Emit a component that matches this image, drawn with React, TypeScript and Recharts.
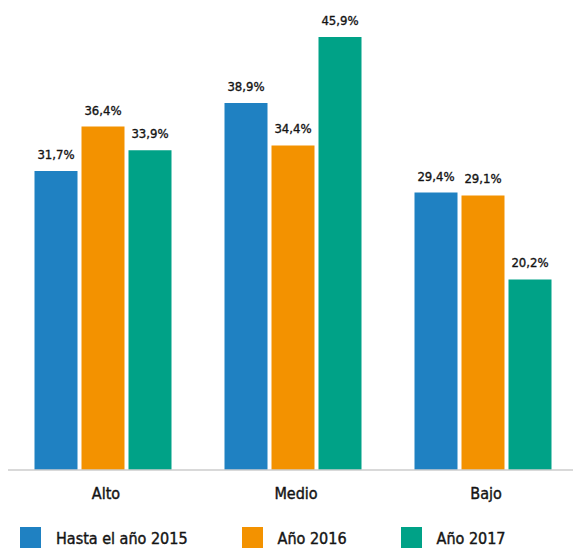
import React from "react";
import { BarChart, Bar, XAxis, YAxis, LabelList, Legend } from "recharts";

const categories = ["Alto", "Medio", "Bajo"];
const hasta2015 = [31.7, 38.9, 29.4];
const anio2016 = [36.4, 34.4, 29.1];
const anio2017 = [33.9, 45.9, 20.2];
const seriesNames = ["Hasta el año 2015", "Año 2016", "Año 2017"];
const seriesKeys = ["s2015", "s2016", "s2017"];
const seriesColors = ["#1F81C2", "#F39200", "#00A287"];

const data = categories.map((c, i) => ({
  name: c,
  s2015: hasta2015[i],
  s2016: anio2016[i],
  s2017: anio2017[i],
}));

const FONT = '"DejaVu Sans Condensed", "DejaVu Sans", sans-serif';
const TEXT = "#141414";

const fmt = (v: any) => `${Number(v).toFixed(1).replace(".", ",")}%`;

const LegendContent = () => (
  <div style={{ display: "flex", alignItems: "center", height: 21, fontFamily: FONT }}>
    {seriesNames.map((n, i) => (
      <div key={n} style={{ display: "flex", alignItems: "center", marginRight: 54 }}>
        <div style={{ width: 21, height: 21, background: seriesColors[i], marginRight: 15 }} />
        <span
          style={{
            fontSize: 16,
            color: TEXT,
            lineHeight: "21px",
            paddingTop: 2,
            WebkitTextStroke: "0.4px #141414",
          }}
        >
          {n}
        </span>
      </div>
    ))}
  </div>
);

export default function App() {
  return (
    <div style={{ position: "absolute", left: 0, top: 0, width: 573, height: 549, overflow: "hidden", background: "#fff", fontFamily: FONT }}>
      <BarChart
        width={580}
        height={549}
        data={data}
        margin={{ top: 36, right: 2, bottom: 28, left: 8 }}
        barCategoryGap={26.5}
        barGap={4}
        style={{ fontFamily: FONT }}
      >
        <XAxis
          dataKey="name"
          tickLine={false}
          axisLine={{ stroke: "#cccccc", strokeWidth: 1.5 }}
          tick={{ fill: TEXT, fontSize: 16, fontFamily: FONT, dx: 3, stroke: TEXT, strokeWidth: 0.4 }}
          tickMargin={12}
          height={30}
        />
        <YAxis hide domain={[0, 46]} />
        <Legend
          verticalAlign="bottom"
          content={<LegendContent />}
          wrapperStyle={{ top: 527, left: 20, bottom: "auto", width: "auto", height: 21 }}
        />
        {seriesKeys.map((k, i) => (
          <Bar key={k} dataKey={k} name={seriesNames[i]} fill={seriesColors[i]} isAnimationActive={false}>
            <LabelList
              dataKey={k}
              position="top"
              offset={12}
              formatter={fmt}
              style={{ fill: TEXT, fontSize: 13, fontFamily: FONT, stroke: TEXT, strokeWidth: 0.35 }}
            />
          </Bar>
        ))}
      </BarChart>
    </div>
  );
}
